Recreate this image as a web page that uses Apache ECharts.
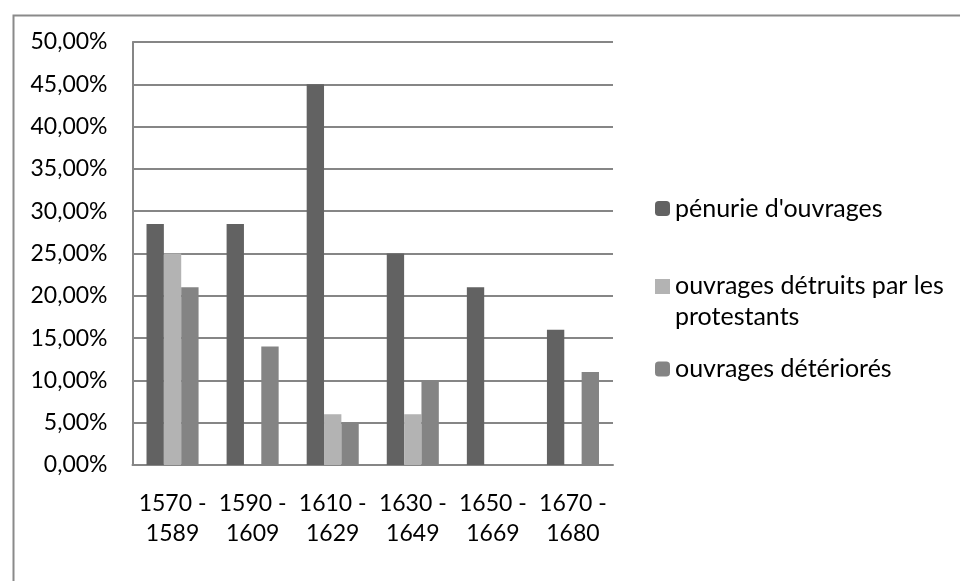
<!DOCTYPE html>
<html>
<head>
<meta charset="utf-8">
<script src="https://cdn.jsdelivr.net/npm/echarts@6/dist/echarts.min.js"></script>
<style>html,body{margin:0;padding:0;background:#fff}#c{width:960px;height:581px}</style>
</head>
<body>
<div id="c"></div>
<script>
const categories = ['1570 -\n1589', '1590 -\n1609', '1610 -\n1629', '1630 -\n1649', '1650 -\n1669', '1670 -\n1680'];
const seriesNames = ["pénurie d'ouvrages", 'ouvrages détruits par les protestants', 'ouvrages détériorés'];
const penurie = [28.5, 28.5, 45, 25, 21, 16];
const detruits = [25, 0, 6, 6, 0, 0];
const deteriores = [21, 14, 5, 10, 0, 11];
const colors = ['#626262', '#b3b3b3', '#848484'];

const font = 'Lato, "Open Sans", sans-serif';
const chart = echarts.init(document.getElementById('c'), null, {renderer: 'canvas'});
function leg(name, top, extra) {
  return Object.assign({
    orient: 'vertical', left: 650, top: top,
    data: [name], itemWidth: 15, itemHeight: 15, selectedMode: false,
    textStyle: {fontFamily: font, fontSize: 25, color: '#000'}
  }, extra || {});
}
chart.setOption({
  animation: false,
  color: colors,
  textStyle: {fontFamily: font},
  grid: {left: 132.5, right: 347, top: 42, bottom: 116, containLabel: false},
  graphic: [{type: 'rect', left: 11, top: 13, shape: {width: 2000, height: 2000},
    style: {fill: 'none', stroke: '#8a8a8a', lineWidth: 2}, silent: true}],
  legend: [
    leg(seriesNames[0], 191),
    leg(seriesNames[1], 265.5, {
      itemHeight: 45,
      data: [{name: seriesNames[1], icon: 'path://M0,0H10V10H0Z M0,30L0.001,30'}],
      formatter: () => 'ouvrages détruits par les\nprotestants',
      textStyle: {fontFamily: font, fontSize: 25, color: '#000', lineHeight: 31}
    }),
    leg(seriesNames[2], 351.5)
  ],
  xAxis: {
    type: 'category', data: categories,
    axisLine: {lineStyle: {color: '#868686', width: 2}},
    axisTick: {show: false},
    axisLabel: {interval: 0, fontFamily: font, fontSize: 23, color: '#000', lineHeight: 30, margin: 24}
  },
  yAxis: {
    type: 'value', min: 0, max: 50, interval: 5,
    axisLine: {show: true, lineStyle: {color: '#868686', width: 2}},
    axisTick: {show: false},
    splitLine: {lineStyle: {color: '#868686', width: 2}},
    axisLabel: {fontFamily: font, fontSize: 23, color: '#000', margin: 25,
      formatter: v => v.toFixed(2).replace('.', ',') + '%'}
  },
  series: [
    {name: seriesNames[0], type: 'bar', data: penurie, barGap: '0%', barCategoryGap: '35%'},
    {name: seriesNames[1], type: 'bar', data: detruits, barGap: '0%', barCategoryGap: '35%'},
    {name: seriesNames[2], type: 'bar', data: deteriores, barGap: '0%', barCategoryGap: '35%'}
  ]
});
</script>
</body>
</html>
